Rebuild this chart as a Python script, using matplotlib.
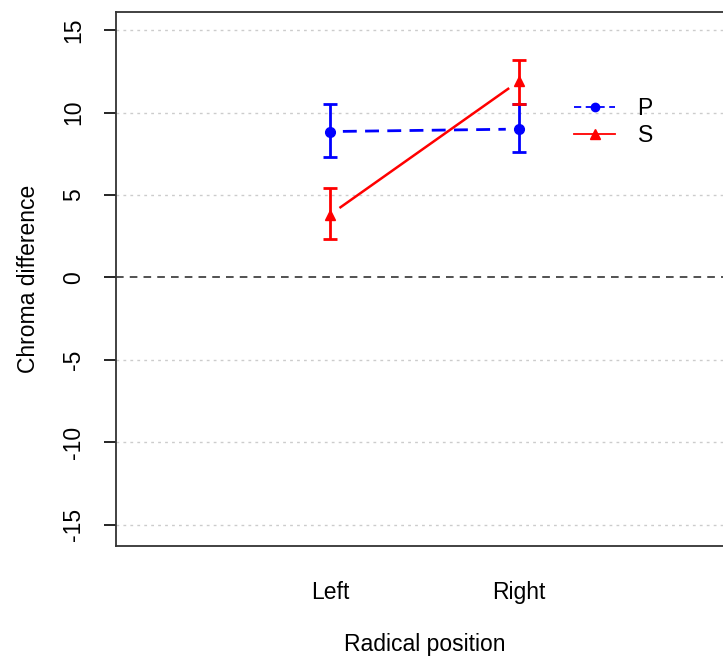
import numpy as np
import matplotlib.pyplot as plt

plt.rcParams['font.family'] = ['Liberation Sans', 'DejaVu Sans']
plt.rcParams['axes.unicode_minus'] = False

# Interaction data: chroma difference by radical position
positions = ['Left', 'Right']
p_mean = [8.85, 9.0]
p_low = [7.3, 7.6]
p_high = [10.55, 10.5]
s_mean = [3.8, 11.9]
s_low = [2.3, 10.5]
s_high = [5.4, 13.2]
yticks = [-15, -10, -5, 0, 5, 10, 15]

fig = plt.figure(figsize=(7.23, 6.6), dpi=100)
ax = fig.add_axes([0.1604, 0.1727, 0.853, 0.809])

x = np.arange(1, len(positions) + 1)
ax.set_xlim(1 - 214 / 189, 2 + 214 / 189)
ax.set_ylim(-16.3, 16.1)

for yv in yticks:
    if yv != 0:
        ax.axhline(yv, color='#cccccc', lw=1, ls=(0, (2, 3)), zorder=0)
ax.axhline(0, color='#222222', lw=1.1, ls=(0, (5, 4)), zorder=1)


def gapped_line(ax, xs, ys, gap_px, **kw):
    # R type="b": line segments stop short of the points
    fig.canvas.draw()
    pts = ax.transData.transform(np.column_stack([xs, ys]))
    inv = ax.transData.inverted()
    for a, b in zip(pts[:-1], pts[1:]):
        d = b - a
        u = d / np.hypot(*d)
        seg = inv.transform(np.array([a + u * gap_px, b - u * gap_px]))
        ax.plot(seg[:, 0], seg[:, 1], **kw)


err_kw = dict(fmt='none', capsize=4.7, elinewidth=2, capthick=2, zorder=3)
ax.errorbar(x, p_mean, yerr=[np.subtract(p_mean, p_low), np.subtract(p_high, p_mean)],
            ecolor='blue', **err_kw)
ax.errorbar(x, s_mean, yerr=[np.subtract(s_mean, s_low), np.subtract(s_high, s_mean)],
            ecolor='red', **err_kw)

gapped_line(ax, x, p_mean, 13, color='blue', lw=2, ls=(0, (5, 3)), zorder=2)
gapped_line(ax, x, s_mean, 13, color='red', lw=1.8, zorder=2)
ax.plot(x, p_mean, 'o', color='blue', ms=7, zorder=4)
ax.plot(x, s_mean, '^', color='red', ms=7.5, zorder=4)

# legend handles
hp, = ax.plot([], [], color='blue', lw=1.3, ls=(0, (4, 2.5)), marker='o', ms=6)
hs, = ax.plot([], [], color='red', lw=1.3, marker='^', ms=7)
ax.legend([hp, hs], ['P', 'S'], loc='upper left', bbox_to_anchor=(0.71, 0.879),
          frameon=False, fontsize=16.5, handlelength=1.75, handletextpad=1.0,
          labelspacing=0.17)

ax.set_xticks(x)
ax.set_xticklabels(positions)
ax.tick_params(axis='x', length=0, pad=25, labelsize=16.5)
ax.set_yticks(yticks)
ax.tick_params(axis='y', length=9, width=1.2, pad=13, labelsize=16.5)
for lab in ax.get_yticklabels():
    lab.set_rotation(90)
    lab.set_va('center')

for sp in ax.spines.values():
    sp.set_linewidth(1.3)
    sp.set_color('#333333')

ax.set_xlabel('Radical position', fontsize=16.5, labelpad=21)
ax.set_ylabel('Chroma difference', fontsize=16.5, labelpad=16)

fig.savefig('out.png', dpi=100)
